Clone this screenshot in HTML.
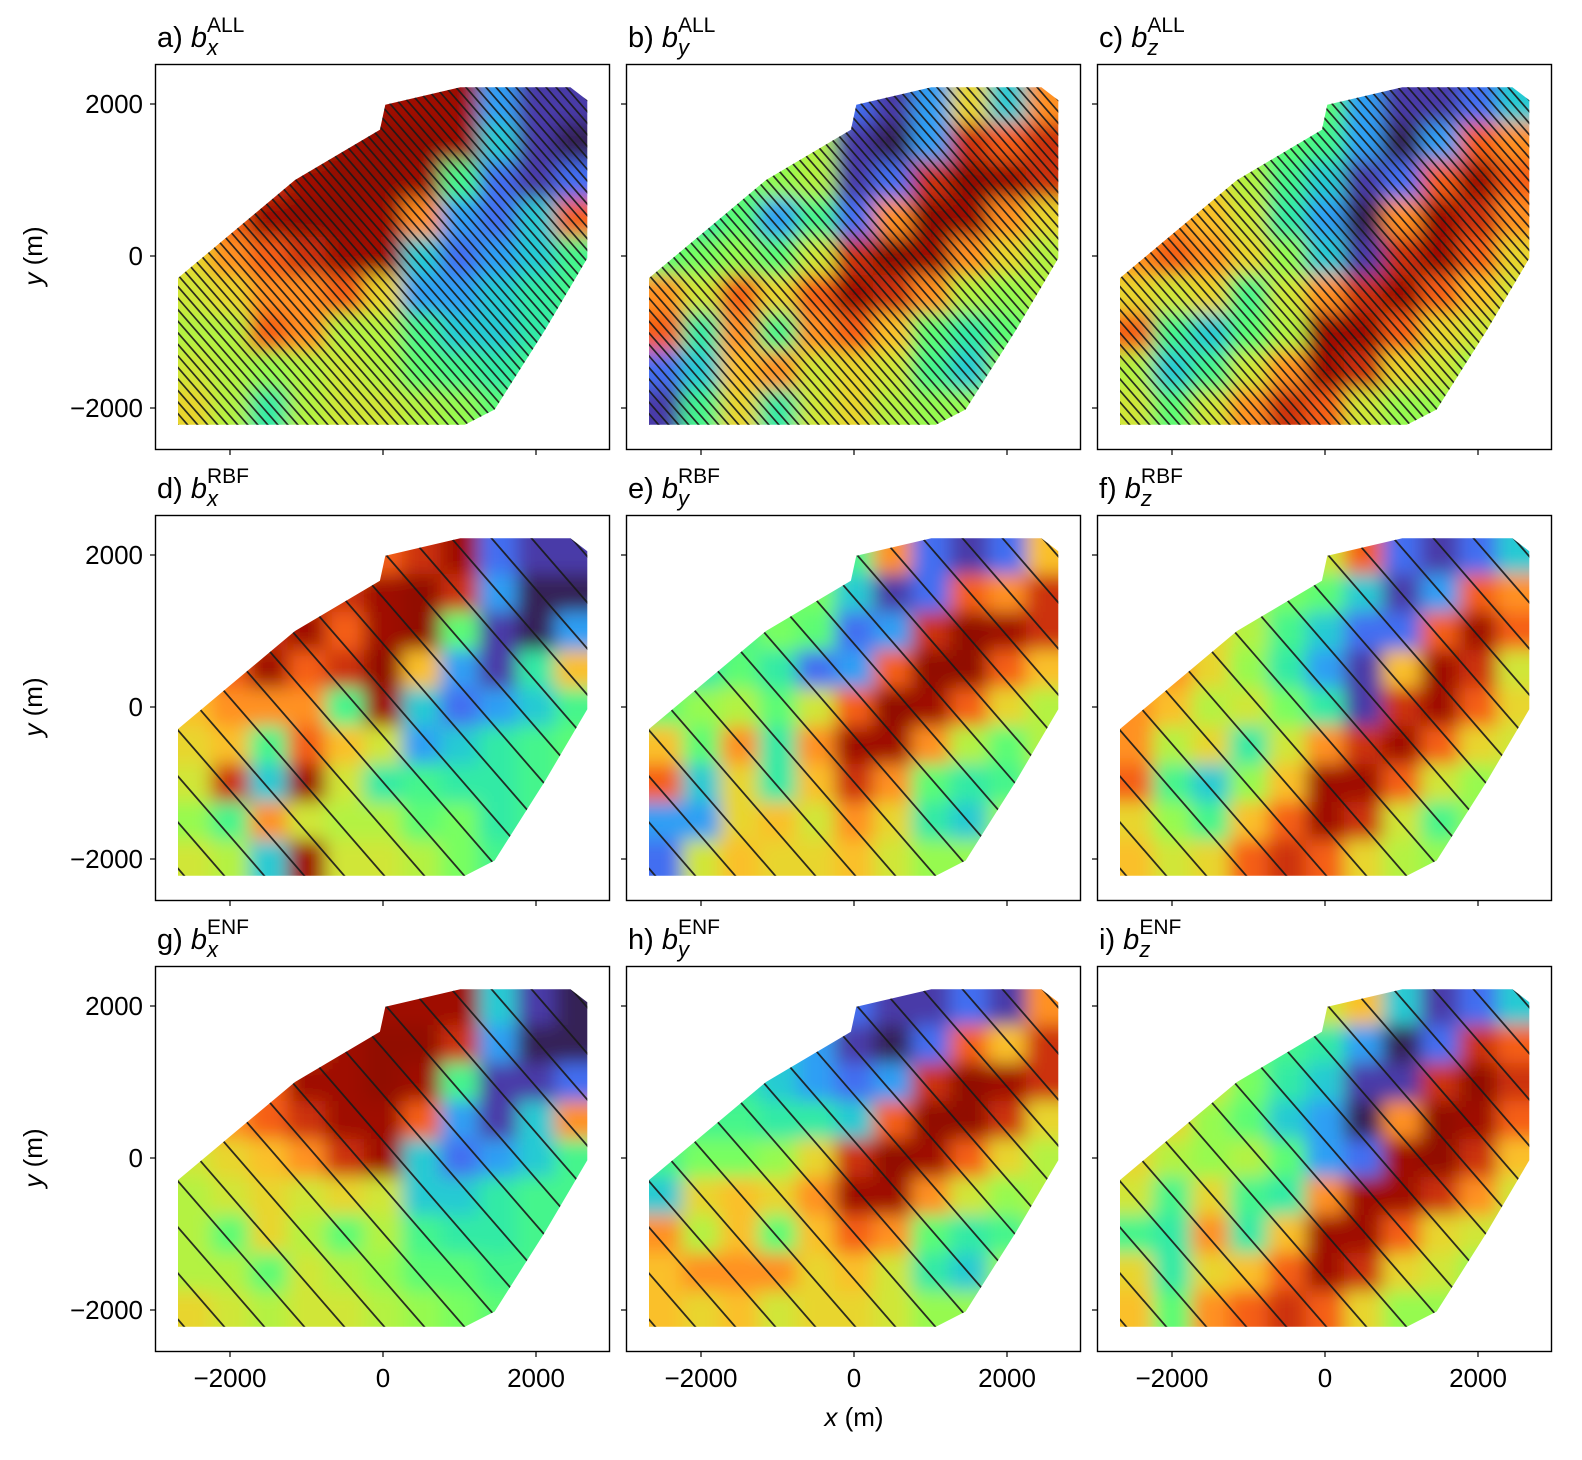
<!DOCTYPE html>
<html><head><meta charset="utf-8"><style>
html,body{margin:0;padding:0;background:#fff;}
svg{display:block;font-family:"Liberation Sans",sans-serif;}
</style></head><body>
<svg id="fig" width="1582" height="1460" viewBox="0 0 1582 1460" xmlns="http://www.w3.org/2000/svg">
<defs>
<filter id="blur" x="-5%" y="-5%" width="110%" height="110%"><feGaussianBlur stdDeviation="9" edgeMode="duplicate"/></filter>
</defs>
<text x="854" y="1426" font-size="26" text-anchor="middle"><tspan font-style="italic">x</tspan> (m)</text>
</svg>
<script>
// grid columns (x) and rows (y) in metres
const gridX = [-2500,-2000,-1500,-1000,-500,0,500,1000,1500,2000,2500];
const gridY = [2000,1500,1000,500,0,-500,-1000,-1500,-2000];
const xTicks = [-2000,0,2000];
const yTicks = [2000,0,-2000];
const xTickLabels = ["\u22122000","0","2000"];
const yTickLabels = ["2000","0","\u22122000"];
const outlineX = [-2680,-2680,1070,1460,2120,2670,2670,2450,1010,30,-40,-1150,-2680];
const outlineY = [-290,-2220,-2220,-2020,-970,-30,2050,2220,2220,1990,1660,1000,-290];
const rbfLines = [-4512,-3989,-3466,-2943,-2420,-1897,-1374,-851,-328,195,718,1241,1764,2287,2810,3333,3856,4379];
const allLines = [];
for (let c=-4600;c<=4600;c+=131) allLines.push(c);

const bxALL = [
[0.5,0.5,0.6,0.6,0.7,0.8,0.8,0.8,-0.6,-0.8,-0.8],
[0.5,0.5,0.6,0.7,0.8,0.9,0.9,0.8,-0.5,-0.8,-0.9],
[0.5,0.6,0.7,0.8,0.9,0.9,0.8,-0.3,-0.7,-0.8,-0.7],
[0.4,0.6,0.8,0.9,0.9,0.8,0.5,-0.6,-0.7,-0.5,0.6],
[0.3,0.5,0.6,0.7,0.8,0.8,-0.5,-0.7,-0.6,-0.5,-0.3],
[0.2,0.3,0.5,0.5,0.6,0.3,-0.6,-0.6,-0.5,-0.4,-0.3],
[0.1,0.1,0.6,0.5,0.1,0.1,-0.3,-0.5,-0.5,-0.4,-0.3],
[0.2,0.1,0.0,0.1,0.2,0.1,-0.2,-0.3,-0.4,-0.3,-0.3],
[0.3,0.1,-0.4,0.1,0.2,0.2,0.1,0.0,-0.2,-0.3,-0.3]];
const byALL = [
[0,0,0,0,0.2,-0.7,-0.8,-0.6,0.3,-0.5,0.5],
[0,0,0,-0.1,0.1,-0.8,-0.9,-0.6,0.7,0.6,0.7],
[-0.2,-0.3,-0.2,0,0.1,-0.8,-0.7,0.7,0.9,0.8,0.7],
[-0.3,-0.4,-0.2,-0.6,-0.3,-0.7,0.5,0.9,0.8,0.5,0.3],
[-0.2,-0.1,0.0,-0.2,0.2,0.7,0.9,0.8,0.5,0.3,0.1],
[0.5,0.2,0.6,0.3,0.6,0.8,0.7,0.5,0.1,0.0,0.1],
[0.6,-0.4,0.5,-0.3,0.5,0.6,0.4,-0.2,-0.4,-0.2,0],
[-0.7,-0.5,0.4,0.5,0.2,0.3,0.2,-0.3,-0.5,0,0],
[-0.8,-0.3,0.3,-0.4,0.2,0.3,0.1,0.0,0,0,0]];
const bzALL = [
[0,0,0,0,0,-0.2,-0.6,-0.8,-0.8,-0.7,-0.5],
[0,0,0,-0.1,-0.2,-0.3,-0.6,-0.9,-0.6,0.6,0.5],
[0.2,0.3,0.3,0.1,-0.3,-0.5,-0.8,-0.7,0.6,0.8,0.6],
[0.4,0.5,0.4,0.2,-0.4,-0.6,-0.9,0.5,0.8,0.7,0.5],
[0.5,0.6,0.5,0.3,0,-0.5,-0.8,0.7,0.8,0.6,0.3],
[0.3,0.2,0.3,-0.3,0.2,0.5,0.7,0.8,0.6,0.4,0.2],
[0.6,-0.3,-0.5,-0.2,0.1,0.8,0.8,0.6,0.3,0.2,0.1],
[0.1,-0.5,-0.3,0.2,0.5,0.8,0.7,0.3,0.2,0,0],
[0.2,-0.2,0.2,0.5,0.7,0.6,0.2,0.0,0,0,0]];
const bxRBF = [
[0.5,0.5,0.6,0.6,0.4,0.6,0.7,0.8,-0.7,-0.8,-0.8],
[0.5,0.5,0.6,0.7,0.7,0.8,0.9,0.7,-0.6,-0.9,-0.9],
[0.5,0.6,0.7,0.8,0.6,0.8,0.9,-0.2,-0.8,-0.9,-0.6],
[0.5,0.6,0.8,0.6,0.7,0.9,0.4,-0.6,-0.8,-0.4,0.4],
[0.4,0.5,0.5,0.5,-0.3,0.8,-0.5,-0.7,-0.6,-0.5,-0.3],
[0.3,0.4,-0.3,0.6,0.4,0.2,-0.6,-0.5,-0.4,-0.3,-0.2],
[0.2,0.7,-0.5,0.8,0.2,-0.4,-0.3,-0.4,-0.4,-0.3,-0.2],
[0.0,-0.3,0.5,0.2,0.1,0.1,-0.2,-0.1,-0.4,-0.3,-0.3],
[0.2,0.1,-0.5,0.8,0.2,0.2,0.1,-0.1,-0.3,-0.3,-0.3]];
const byRBF = [
[0,0,0,0,0.2,-0.3,0.5,-0.7,-0.8,-0.7,0.4],
[0,0,0,-0.2,-0.1,-0.5,-0.8,-0.7,0.6,0.5,0.7],
[-0.3,-0.4,-0.3,-0.1,-0.2,-0.7,-0.6,0.7,0.9,0.8,0.7],
[-0.3,-0.4,-0.2,-0.4,-0.7,-0.6,0.6,0.9,0.9,0.6,0.4],
[-0.2,0.0,0.1,-0.2,0.2,0.6,0.9,0.8,0.6,0.3,0.1],
[0.4,-0.2,0.5,-0.4,0.5,0.8,0.8,0.5,0.1,-0.2,0.1],
[0.6,-0.5,0.3,-0.4,0.4,0.7,0.5,-0.2,-0.4,-0.3,0],
[-0.6,-0.6,0.3,0.4,0.2,0.5,0.3,-0.4,-0.5,0,0],
[-0.7,0.2,0.4,0.3,0.3,0.4,0.2,0.0,0,0,0]];
const bzRBF = [
[0,0,0,0,0,0.2,0.6,-0.7,-0.8,-0.7,-0.5],
[0,0,0,0,-0.1,-0.2,-0.5,-0.8,-0.6,0.6,0.5],
[0.3,0.3,0.3,0.1,-0.3,-0.5,-0.7,-0.7,0.6,0.8,0.6],
[0.4,0.5,0.3,0.0,-0.4,-0.6,-0.8,0.4,0.8,0.7,0.2],
[0.5,0.4,0.1,0.2,-0.1,-0.4,-0.8,0.7,0.8,0.6,0.3],
[0.5,0.1,0.3,-0.4,0.2,0.5,0.7,0.8,0.6,0.3,0.2],
[0.6,-0.3,-0.5,0.0,0.4,0.8,0.8,0.6,0.2,0.0,0.1],
[0.3,0.0,-0.3,0.4,0.6,0.8,0.7,0.2,-0.3,0,0],
[0.4,0.2,0.3,0.6,0.7,0.6,0.3,0.1,0,0,0]];
const bxENF = [
[0.5,0.5,0.6,0.6,0.7,0.8,0.8,0.8,-0.5,-0.8,-0.9],
[0.5,0.5,0.6,0.7,0.8,0.9,0.9,0.7,-0.6,-0.9,-0.9],
[0.5,0.5,0.6,0.8,0.8,0.9,0.8,-0.3,-0.8,-0.8,-0.7],
[0.4,0.5,0.6,0.7,0.8,0.8,0.6,-0.6,-0.8,-0.5,0.5],
[0.2,0.3,0.4,0.5,0.7,0.8,-0.5,-0.7,-0.6,-0.5,-0.3],
[0.1,0.2,0.3,0.2,0.3,0.2,-0.5,-0.5,-0.4,-0.3,-0.3],
[0.1,-0.2,0.3,0.1,-0.2,0.1,-0.3,-0.4,-0.4,-0.3,-0.3],
[0.1,0.1,-0.2,0.2,0.1,0.0,-0.2,-0.2,-0.3,-0.3,-0.3],
[0.3,0.2,0.1,0.2,0.2,0.1,0.0,-0.1,-0.2,-0.3,-0.3]];
const byENF = [
[0,0,0,0,0,-0.7,-0.8,-0.8,-0.7,-0.8,0.5],
[0,0,0,-0.5,-0.6,-0.8,-0.9,-0.7,0.6,0.4,0.7],
[-0.4,-0.5,-0.4,-0.5,-0.6,-0.7,-0.6,0.7,0.9,0.8,0.7],
[-0.4,-0.3,-0.3,-0.4,-0.4,-0.5,0.6,0.9,0.9,0.7,0.3],
[-0.3,-0.1,-0.1,0.0,0.3,0.7,0.9,0.8,0.6,0.3,0.1],
[-0.5,0.3,0.4,0.3,0.5,0.8,0.8,0.5,0.2,0.0,0.1],
[0.5,0.1,0.4,-0.2,0.4,0.6,0.5,-0.2,-0.4,-0.3,0],
[0.4,0.5,0.5,0.5,0.3,0.4,0.2,-0.4,-0.5,0,0],
[0.4,0.3,0.4,0.2,0.3,0.3,0.2,0.0,0,0,0]];
const bzENF = [
[0,0,0,0,0,0.2,0.4,-0.5,-0.8,-0.7,-0.5],
[0,0,0,-0.2,-0.3,-0.4,-0.6,-0.9,-0.7,0.7,0.6],
[0.3,0.5,0.2,-0.1,-0.4,-0.5,-0.8,-0.8,0.7,0.9,0.7],
[0.4,0.3,0.0,-0.2,-0.5,-0.6,-0.9,0.5,0.9,0.8,0.6],
[0.3,0.1,0.0,0.1,-0.2,-0.6,-0.7,0.8,0.9,0.7,0.4],
[0.2,-0.3,0.3,-0.3,-0.4,0.5,0.8,0.8,0.7,0.5,0.2],
[-0.3,-0.4,0.5,-0.4,0.4,0.8,0.8,0.6,0.3,0.2,0.1],
[0.3,-0.4,0.3,0.4,0.6,0.8,0.7,0.3,0.2,0,0],
[0.4,-0.2,0.5,0.6,0.7,0.6,0.3,0.0,0,0,0]];

const panels = [
 {id:"a",comp:"x",src:"ALL",grid:bxALL,col:0,row:0,lines:allLines},
 {id:"b",comp:"y",src:"ALL",grid:byALL,col:1,row:0,lines:allLines},
 {id:"c",comp:"z",src:"ALL",grid:bzALL,col:2,row:0,lines:allLines},
 {id:"d",comp:"x",src:"RBF",grid:bxRBF,col:0,row:1,lines:rbfLines},
 {id:"e",comp:"y",src:"RBF",grid:byRBF,col:1,row:1,lines:rbfLines},
 {id:"f",comp:"z",src:"RBF",grid:bzRBF,col:2,row:1,lines:rbfLines},
 {id:"g",comp:"x",src:"ENF",grid:bxENF,col:0,row:2,lines:rbfLines},
 {id:"h",comp:"y",src:"ENF",grid:byENF,col:1,row:2,lines:rbfLines},
 {id:"i",comp:"z",src:"ENF",grid:bzENF,col:2,row:2,lines:rbfLines}];

const NS="http://www.w3.org/2000/svg";
const svg=document.getElementById('fig');
function mk(tag,attrs,parent){const e=document.createElementNS(NS,tag);for(const k in attrs)e.setAttribute(k,attrs[k]);(parent||svg).appendChild(e);return e;}
function turbo(v){
 v=Math.max(-1,Math.min(1,v));
 const a=Math.abs(v);
 const a2=a<0.4?a*0.8:Math.min(1,0.32+(a-0.4)*1.5);
 v=Math.sign(v)*a2;
 let t=0.02+(v+1)/2*0.96;
 const r=0.13572138+t*(4.61539260+t*(-42.66032258+t*(132.13108234+t*(-152.94239396+t*59.28637943))));
 const g=0.09140261+t*(2.19418839+t*(4.84296658+t*(-14.18503333+t*(4.27729857+t*2.82956604))));
 const b=0.10667330+t*(12.64194608+t*(-60.58204836+t*(110.36276771+t*(-89.90310912+t*27.34824973))));
 const c=x=>Math.round(Math.max(0,Math.min(1,x))*255);
 return `rgb(${c(r)},${c(g)},${c(b)})`;
}
const PW=454,PH=385,colL=[155,626,1097],rowT=[64,515,966];
const KX=0.0765,KY=0.076;

panels.forEach((p,pi)=>{
 const L=colL[p.col],T=rowT[p.row];
 const sx=x=>L+228+x*KX, sy=y=>T+192-y*KY;
 const g=mk('g',{});
 
 
 const clipId='clip'+p.id;
 const cp=mk('clipPath',{id:clipId},g);
 let pts=outlineX.map((x,i)=>sx(x).toFixed(1)+','+sy(outlineY[i]).toFixed(1)).join(' ');
 mk('polygon',{points:pts},cp);
 const cg=mk('g',{'clip-path':`url(#${clipId})`},g);
 const hm=mk('g',{filter:'url(#blur)'},cg);
 
 
 p.grid.forEach((rowv,ri)=>{
  rowv.forEach((v,ci)=>{
   let x0=gridX[ci]-250,x1=gridX[ci]+250,y1=gridY[ri]+250,y0=gridY[ri]-250;
   if(ci===0)x0-=800; if(ci===gridX.length-1)x1+=800;
   if(ri===0)y1+=800; if(ri===gridY.length-1)y0-=800;
   const r=mk('rect',{x:sx(x0),y:sy(y1),width:(x1-x0)*KX+0.5,height:(y1-y0)*KY+0.5,fill:turbo(v)},hm);
   
   
  });
 });
 const lg=mk('g',{stroke:'#1a1a1a','stroke-width':p.src==='ALL'?1.7:1.8,fill:'none','stroke-opacity':0.9},cg);
 
 
 p.lines.forEach(c=>{
  const ya=2400,yb=-2400;
  const l=mk('line',{x1:sx(c-ya/1.16),y1:sy(ya),x2:sx(c-yb/1.16),y2:sy(yb)},lg);
  
  
 });
 const fr=mk('rect',{x:L+0.5,y:T+0.5,width:PW,height:PH,fill:'none',stroke:'#000','stroke-width':1.4},g);
 
 
 xTicks.forEach((t,i)=>{
  mk('line',{x1:sx(t),x2:sx(t),y1:T+PH+0.5,y2:T+PH+6,stroke:'#000','stroke-width':1.2},g);
  if(p.row===2){
   const tx=mk('text',{x:sx(t),y:T+PH+36,'font-size':26,'text-anchor':'middle'},g);
   tx.textContent=xTickLabels[i];
   
   
  }
 });
 yTicks.forEach((t,i)=>{
  mk('line',{x1:L+0.5,x2:L-5,y1:sy(t),y2:sy(t),stroke:'#000','stroke-width':1.2},g);
  if(p.col===0){
   const tx=mk('text',{x:L-12,y:sy(t)+9,'font-size':26,'text-anchor':'end'},g);
   tx.textContent=yTickLabels[i];
   
   
  }
 });
 if(p.col===0){
  const yl=mk('text',{x:0,y:0,'font-size':26,'text-anchor':'middle',transform:`translate(42,${T+192}) rotate(-90)`},g);
  yl.innerHTML='<tspan font-style="italic">y</tspan> (m)';
  
  
 }
 const tt=mk('text',{x:L+2,y:T-17,'font-size':29},g);
 tt.innerHTML=`${p.id}) <tspan font-style="italic">b</tspan><tspan font-style="italic" font-size="22" dy="8">${p.comp}</tspan><tspan font-size="21" dy="-23" dx="-11">${p.src}</tspan>`;
 
 
});
</script>
</body></html>
